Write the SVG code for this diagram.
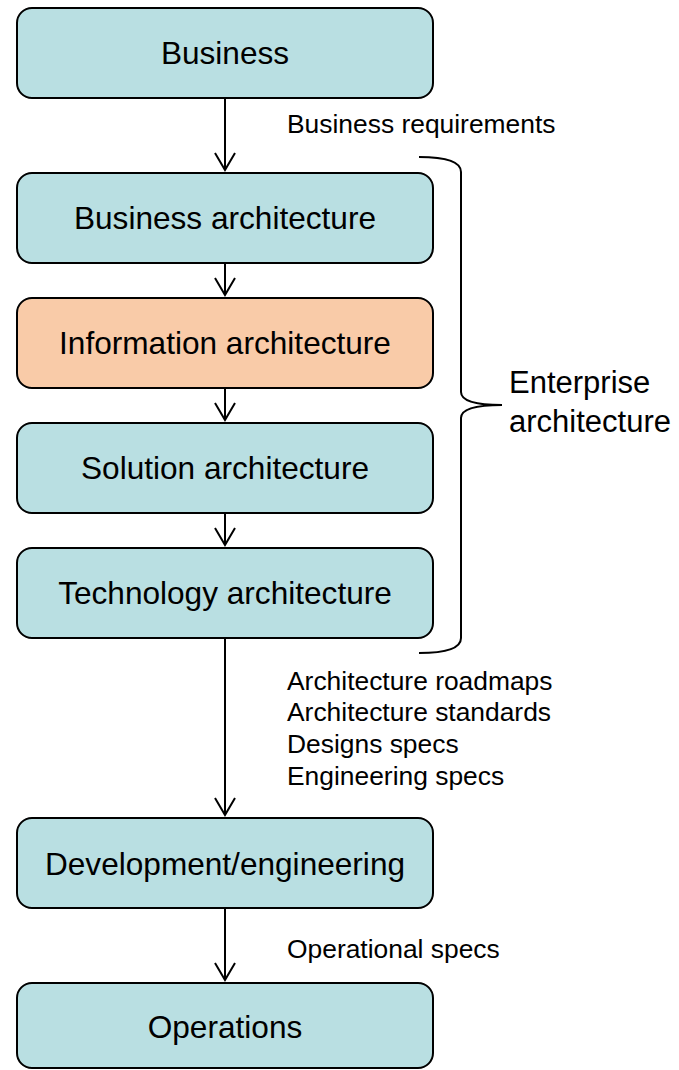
<svg xmlns="http://www.w3.org/2000/svg" width="679" height="1070" viewBox="0 0 679 1070">
  <style>
    .box { stroke: #000; stroke-width: 2; }
    .teal { fill: #b9dfe2; }
    .orange { fill: #f9cba8; }
    .lbl { font-family: "Liberation Sans", Arial, sans-serif; font-size: 31.6px; fill: #000; text-anchor: middle; }
    .note { font-family: "Liberation Sans", Arial, sans-serif; font-size: 26.4px; fill: #000; }
    .big { font-family: "Liberation Sans", Arial, sans-serif; font-size: 31px; fill: #000; }
    .conn { stroke: #000; stroke-width: 2; fill: none; }
  </style>
  <defs>
    <marker id="arr" markerUnits="userSpaceOnUse" viewBox="-20 -12 22 24" refX="0" refY="0" markerWidth="22" markerHeight="24" orient="auto">
      <path d="M-17,-10 L0,0 L-17,10" fill="none" stroke="#000" stroke-width="2"/>
    </marker>
  </defs>
  <rect width="679" height="1070" fill="#fff"/>

  <g id="connectors">
    <line class="conn" x1="225" y1="98" x2="225" y2="170" marker-end="url(#arr)"/>
    <line class="conn" x1="225" y1="263" x2="225" y2="295" marker-end="url(#arr)"/>
    <line class="conn" x1="225" y1="388" x2="225" y2="420" marker-end="url(#arr)"/>
    <line class="conn" x1="225" y1="513" x2="225" y2="545" marker-end="url(#arr)"/>
    <line class="conn" x1="225" y1="638" x2="225" y2="815" marker-end="url(#arr)"/>
    <line class="conn" x1="225" y1="908" x2="225" y2="980" marker-end="url(#arr)"/>
  </g>

  <g id="business">
    <rect class="box teal" x="17" y="8" width="416" height="90" rx="15"/>
    <text class="lbl" x="225" y="64">Business</text>
  </g>
  <g id="business-architecture">
    <rect class="box teal" x="17" y="173" width="416" height="90" rx="15"/>
    <text class="lbl" x="225" y="229">Business architecture</text>
  </g>
  <g id="information-architecture">
    <rect class="box orange" x="17" y="298" width="416" height="90" rx="15"/>
    <text class="lbl" x="225" y="354">Information architecture</text>
  </g>
  <g id="solution-architecture">
    <rect class="box teal" x="17" y="423" width="416" height="90" rx="15"/>
    <text class="lbl" x="225" y="479">Solution architecture</text>
  </g>
  <g id="technology-architecture">
    <rect class="box teal" x="17" y="548" width="416" height="90" rx="15"/>
    <text class="lbl" x="225" y="604">Technology architecture</text>
  </g>
  <g id="development-engineering">
    <rect class="box teal" x="17" y="818" width="416" height="90" rx="15"/>
    <text class="lbl" x="225" y="875">Development/engineering</text>
  </g>
  <g id="operations">
    <rect class="box teal" x="17" y="983" width="416" height="85" rx="15"/>
    <text class="lbl" x="225" y="1038">Operations</text>
  </g>

  <g id="labels">
    <text class="note" x="287" y="133">Business requirements</text>
    <text class="note" x="287" y="690">Architecture roadmaps</text>
    <text class="note" x="287" y="721">Architecture standards</text>
    <text class="note" x="287" y="753">Designs specs</text>
    <text class="note" x="287" y="785">Engineering specs</text>
    <text class="note" x="287" y="958">Operational specs</text>
  </g>

  <g id="enterprise-brace">
    <path class="conn" d="M419,157 Q461,157 461,172 L461,392 Q461,405 502,405 Q461,405 461,418 L461,638 Q461,653 419,653"/>
    <text class="big" x="509" y="393">Enterprise</text>
    <text class="big" x="509" y="432">architecture</text>
  </g>
</svg>
